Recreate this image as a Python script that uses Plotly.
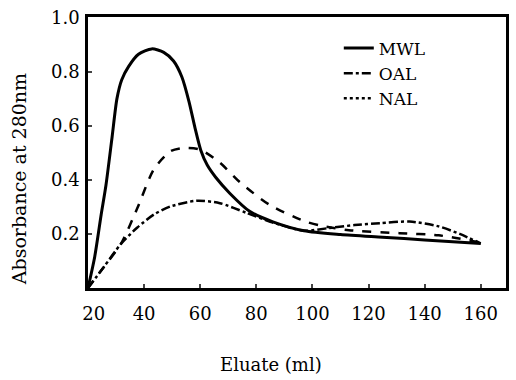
import plotly.graph_objects as go

# Data
mwl_x = [20, 22.4, 24.7, 26.4, 28.6, 30.3, 32.0, 34.5, 38, 42.7, 47.0, 50.5, 53.5, 56.0, 58.2, 60.2, 62.5, 65.5, 70.6, 77.6, 85.9, 97, 110, 125, 140, 160]
mwl_y = [0.0, 0.116, 0.272, 0.38, 0.56, 0.70, 0.77, 0.82, 0.865, 0.885, 0.872, 0.84, 0.78, 0.69, 0.59, 0.51, 0.455, 0.41, 0.35, 0.284, 0.245, 0.212, 0.198, 0.188, 0.178, 0.165]

oal_x = [20, 25.8, 31.8, 37.6, 43.5, 49.4, 58.8, 67, 76.5, 85.9, 97, 106, 115, 124, 134.6, 145, 152.5, 160]
oal_y = [0.0, 0.08, 0.164, 0.224, 0.272, 0.302, 0.323, 0.314, 0.278, 0.242, 0.212, 0.222, 0.233, 0.24, 0.246, 0.228, 0.20, 0.165]

nal_x = [20, 25.8, 31.8, 37.6, 43.5, 49.4, 54.1, 60, 67, 74.1, 84.7, 97, 102.5, 113, 131, 145, 160]
nal_y = [0.0, 0.08, 0.164, 0.296, 0.44, 0.506, 0.518, 0.512, 0.464, 0.392, 0.308, 0.248, 0.232, 0.214, 0.203, 0.195, 0.168]

x_ticks = [20, 40, 60, 80, 100, 120, 140, 160]
x_ticktext = ["\u00a0\u00a020", "40", "60", "80", "100", "120", "140", "160"]
y_ticks = [0.2, 0.4, 0.6, 0.8, 1.0]
y_ticktext = ["0.2", "0.4", "0.6", "0.8", "1.0"]

FONT = "DejaVu Serif"
SM = 0.7

fig = go.Figure()
fig.add_trace(go.Scatter(x=mwl_x, y=mwl_y, mode="lines", line=dict(color="black", width=3, shape="spline", smoothing=SM), showlegend=False))
fig.add_trace(go.Scatter(x=oal_x, y=oal_y, mode="lines", line=dict(color="black", width=2.5, dash="dashdot", shape="spline", smoothing=SM), showlegend=False))
fig.add_trace(go.Scatter(x=nal_x, y=nal_y, mode="lines", line=dict(color="black", width=2.5, dash="dash", shape="spline", smoothing=SM), showlegend=False))

# legend entries (styles as drawn in the reference key)
fig.add_trace(go.Scatter(x=[None], y=[None], mode="lines", name="MWL", line=dict(color="black", width=3)))
fig.add_trace(go.Scatter(x=[None], y=[None], mode="lines", name="OAL", line=dict(color="black", width=2.5, dash="dashdot")))
fig.add_trace(go.Scatter(x=[None], y=[None], mode="lines", name="NAL", line=dict(color="black", width=2.5, dash="dot")))

fig.update_layout(
    width=516, height=380,
    margin=dict(l=88, r=7, t=10, b=92),
    paper_bgcolor="white", plot_bgcolor="white",
    font=dict(family=FONT, size=18, color="black"),
    legend=dict(x=0.60, y=0.95, xanchor="left", yanchor="top", bgcolor="rgba(0,0,0,0)",
                font=dict(family=FONT, size=17), tracegroupgap=0, itemwidth=30),
    xaxis=dict(range=[20, 169], tickvals=x_ticks, ticktext=x_ticktext, ticks="inside", ticklen=4, tickwidth=2,
               showline=True, linewidth=2.5, linecolor="black", mirror=True, showgrid=False, zeroline=False,
               tickfont=dict(family=FONT, size=18), ticklabelstandoff=8),
    yaxis=dict(range=[0, 1.003], tickvals=y_ticks, ticktext=y_ticktext, ticks="inside", ticklen=4, tickwidth=2,
               showline=True, linewidth=2.5, linecolor="black", mirror=True, showgrid=False, zeroline=False,
               tickfont=dict(family=FONT, size=18), ticklabelstandoff=2),
    annotations=[
        dict(text="Eluate (ml)", xref="paper", yref="paper", x=0.438, y=-0.284, showarrow=False,
             font=dict(family=FONT, size=18), xanchor="center", yanchor="middle"),
        dict(text="Absorbance at 280nm", xref="paper", yref="paper", x=-0.166, y=0.40, showarrow=False,
             textangle=-90, font=dict(family=FONT, size=19), xanchor="center", yanchor="middle"),
    ],
)

fig.write_html("out.html")
